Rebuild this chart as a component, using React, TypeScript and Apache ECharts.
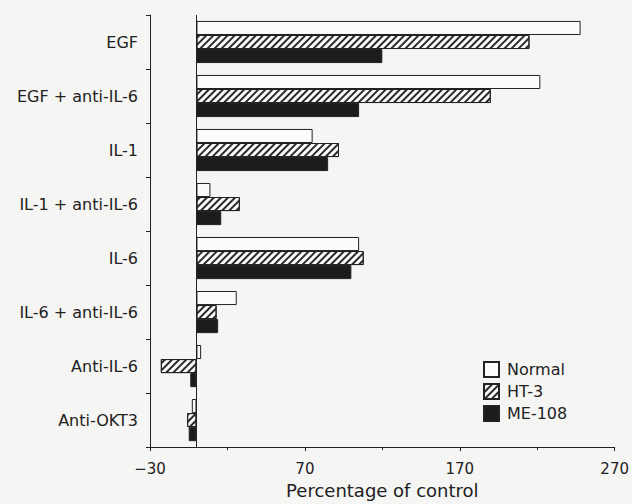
import React, { useEffect, useRef } from "react";
import * as echarts from "echarts";

const categories = [
  "EGF",
  "EGF + anti-IL-6",
  "IL-1",
  "IL-1 + anti-IL-6",
  "IL-6",
  "IL-6 + anti-IL-6",
  "Anti-IL-6",
  "Anti-OKT3",
];
const normalValues = [248, 222, 75, 9, 105, 26, 3, -3];
const ht3Values = [215, 190, 92, 28, 108, 13, -23, -6];
const me108Values = [120, 105, 85, 16, 100, 14, -4, -5];
const seriesNames = ["Normal", "HT-3", "ME-108"];
const xMin = -30;
const xMax = 270;
const xStep = 100;

const FONT = "'DejaVu Sans', Verdana, sans-serif";
const INK = "#222222";

export default function App() {
  const ref = useRef<HTMLDivElement>(null);
  useEffect(() => {
    if (!ref.current) return;
    const chart = echarts.init(ref.current, undefined, { renderer: "svg" });
    const barBase = {
      type: "bar" as const,
      barGap: "0%",
      barCategoryGap: "22%",
    };
    chart.setOption({
      animation: false,
      backgroundColor: "#f5f5f3",
      textStyle: { fontFamily: FONT },
      grid: { left: 150, right: 15, top: 15, bottom: 55 },
      legend: {
        orient: "vertical",
        left: 483,
        top: 361,
        padding: 0,
        itemWidth: 15,
        itemHeight: 15,
        itemGap: 5,
        selectedMode: false,
        icon: "rect",
        textStyle: { fontSize: 16, color: INK, fontFamily: FONT, padding: [0, 0, 0, 3] },
        data: seriesNames,
      },
      xAxis: {
        type: "value",
        min: xMin,
        max: xMax,
        interval: xStep,
        splitLine: { show: false },
        axisLine: { show: true, lineStyle: { color: INK, width: 1 } },
        axisTick: { show: true, length: 4, lineStyle: { color: INK } },
        minorTick: { show: true, splitNumber: 2, length: 3, lineStyle: { color: INK } },
        axisLabel: {
          fontSize: 15,
          color: INK,
          margin: 14,
          fontFamily: FONT,
          formatter: (v: number) => (v < 0 ? "\u2212" + Math.abs(v) : String(v)),
        },
        name: "Percentage of control",
        nameLocation: "middle",
        nameGap: 32,
        nameTextStyle: { fontSize: 18, color: INK, fontFamily: FONT },
      },
      yAxis: {
        type: "category",
        data: categories,
        inverse: true,
        axisLine: { show: true, onZero: false, lineStyle: { color: INK, width: 1 } },
        axisTick: { show: true, length: 4, lineStyle: { color: INK } },
        axisLabel: { fontSize: 16, color: INK, margin: 12, fontFamily: FONT },
      },
      series: [
        {
          ...barBase,
          name: seriesNames[0],
          data: normalValues,
          itemStyle: { color: "#fbfbfb", borderColor: INK, borderWidth: 1 },
          markLine: {
            silent: true,
            symbol: "none",
            label: { show: false },
            lineStyle: { color: INK, width: 1, type: "solid" },
            data: [{ xAxis: 0 }],
          },
        },
        {
          ...barBase,
          name: seriesNames[1],
          data: ht3Values,
          itemStyle: {
            color: "#fbfbfb",
            borderColor: INK,
            borderWidth: 1,
            decal: {
              symbol: "rect",
              symbolSize: 1,
              color: "#2a2a2a",
              dashArrayX: [1, 0],
              dashArrayY: [1.6, 2.6],
              rotation: -Math.PI / 4,
            },
          },
        },
        {
          ...barBase,
          name: seriesNames[2],
          data: me108Values,
          itemStyle: { color: "#1c1c1c", borderColor: INK, borderWidth: 1 },
        },
      ],
    });
    return () => chart.dispose();
  }, []);
  return (
    <div
      ref={ref}
      style={{ position: "fixed", left: 0, top: 0, width: 632, height: 504 }}
    />
  );
}
